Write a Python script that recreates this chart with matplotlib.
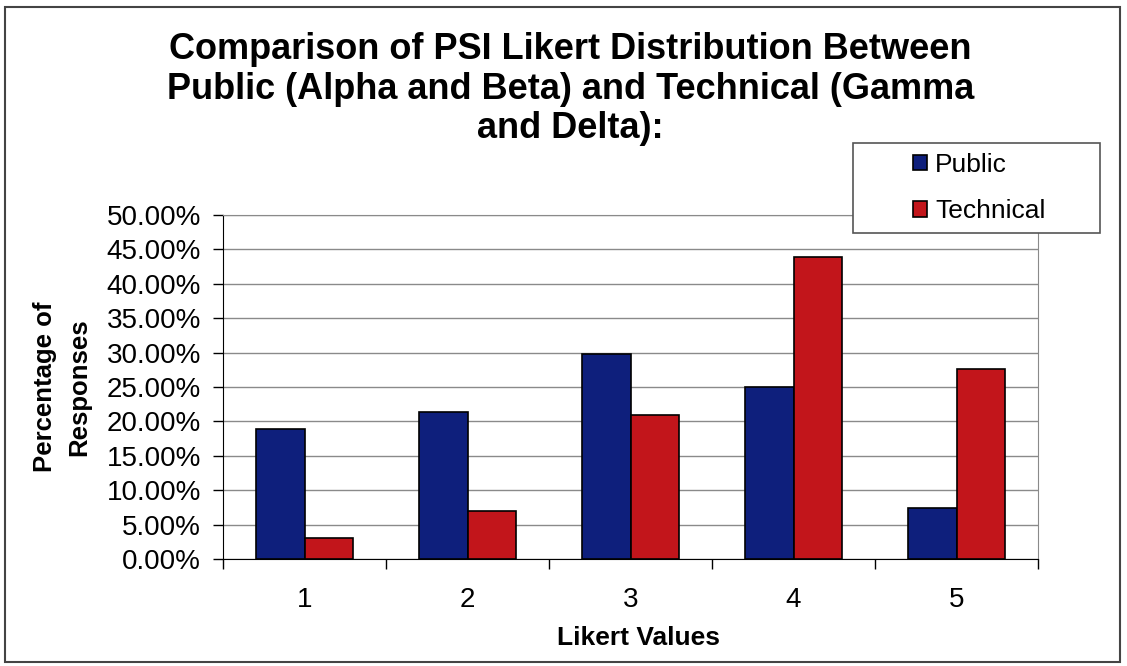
import matplotlib.pyplot as plt
import matplotlib.patches as patches
import numpy as np

likert_values = [1, 2, 3, 4, 5]
public_pct = [18.9, 21.4, 29.8, 25.0, 7.4]
technical_pct = [3.0, 7.0, 20.9, 43.9, 27.6]
series_names = ["Public", "Technical"]

plt.rcParams['font.family'] = ['Liberation Sans', 'DejaVu Sans']

fig = plt.figure(figsize=(11.27, 6.66), dpi=100)
ax = fig.add_axes([0.1979, 0.1607, 0.7232, 0.5165])

# outer chart frame
fig.patches.append(patches.Rectangle((0.004, 0.006), 0.99, 0.983, transform=fig.transFigure,
                                     fill=False, edgecolor='#444444', linewidth=1.5))

x = np.array(likert_values)
w = 0.3
ax.bar(x - w / 2, public_pct, w, color='#0E1F7C', edgecolor='black', linewidth=1.2,
       label=series_names[0], zorder=3)
ax.bar(x + w / 2, technical_pct, w, color='#C2151B', edgecolor='black', linewidth=1.2,
       label=series_names[1], zorder=3)

ax.set_xlim(0.5, 5.5)
ax.set_ylim(0, 50)
ax.set_yticks(np.arange(0, 50.1, 5))
ax.set_yticklabels(['%.2f%%' % v for v in np.arange(0, 50.1, 5)], fontsize=20)
ax.tick_params(axis='y', direction='out', length=7, width=1, pad=9)

# category boundaries as major ticks, labels at centers as minor ticks
ax.set_xticks(np.arange(0.5, 5.6, 1))
ax.set_xticklabels([])
ax.tick_params(axis='x', which='major', direction='out', length=7, width=1)
ax.set_xticks(x, minor=True)
ax.set_xticklabels([str(v) for v in likert_values], minor=True, fontsize=20)
ax.tick_params(axis='x', which='minor', length=0, pad=20)

ax.grid(axis='y', color='#8a8a8a', linewidth=1, zorder=0)
ax.spines['left'].set_color('black')
ax.spines['bottom'].set_color('black')
ax.spines['top'].set_color('#8a8a8a')
ax.spines['right'].set_color('#8a8a8a')

ax.set_ylabel('Percentage of\nResponses', fontsize=18.5, fontweight='bold', linespacing=1.5)
ax.yaxis.set_label_coords(-0.162, 0.5)
ax.set_xlabel('Likert Values', fontsize=19, fontweight='bold')
ax.xaxis.set_label_coords(0.51, -0.194)

fig.text(0.506, 0.866, 'Comparison of PSI Likert Distribution Between\n'
         'Public (Alpha and Beta) and Technical (Gamma\nand Delta):',
         ha='center', va='center', fontsize=26, fontweight='bold', linespacing=1.16)

# legend box drawn separately to get Excel-like wide padding
fig.patches.append(patches.Rectangle((853 / 1127, 1 - 233 / 666), 247 / 1127, 90 / 666,
                                     transform=fig.transFigure, facecolor='white',
                                     edgecolor='#555555', linewidth=1.2, zorder=5))
leg = fig.legend(loc='center', bbox_to_anchor=(979 / 1127, 1 - 188 / 666), fontsize=19,
                 frameon=False, handlelength=0.55, handleheight=0.55, handletextpad=0.3,
                 borderpad=0, labelspacing=0.85, borderaxespad=0)
leg.set_zorder(6)

plt.savefig("out.png", dpi=100)
